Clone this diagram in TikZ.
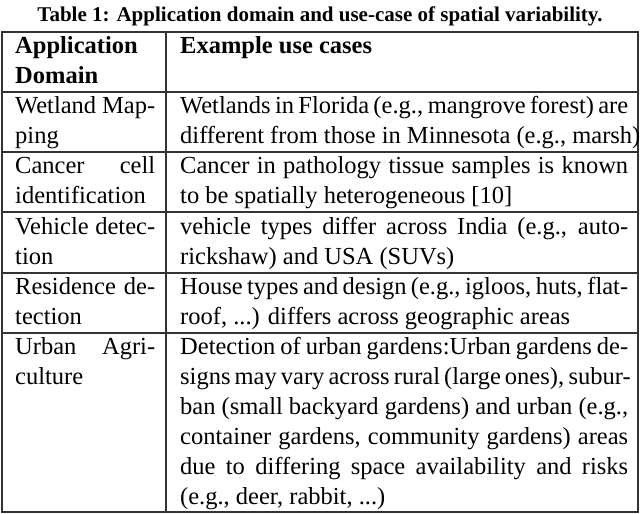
\documentclass[tikz,border=0pt]{standalone}
\usepackage{fontspec}
\setmainfont{Liberation Serif}
\begin{document}
\begin{tikzpicture}[x=1pt,y=-1pt,
  txt/.style={anchor=base west,inner sep=0pt,font=\fontsize{24.5}{28}\selectfont},
  hd/.style={txt,font=\fontsize{24.5}{28}\selectfont\bfseries},
  rule/.style={line width=1.2pt,black!80}]
\useasboundingbox (0,0) rectangle (640,514);
\newcommand\Ja[1]{\makebox[140pt][s]{#1}}
\newcommand\Jb[1]{\makebox[448pt][s]{#1}}
\node[anchor=base,inner sep=0pt,font=\fontsize{21}{24}\selectfont\bfseries] (title) at (320,21) {Table 1: Application domain and use-case of spatial variability.};
\draw[rule] (2,32) rectangle (638,512);
\draw[rule] (166,32) -- (166,512);
\foreach \y in {92,152,212,273,333} \draw[rule] (2,\y) -- (638,\y);
% header
\node[hd] (h1) at (15,53) {Application};
\node[hd] (h2) at (15,83) {Domain};
\node[hd] (h3) at (180,53) {Example use cases};
% row1
\node[txt] (a1) at (15,113) {\Ja{Wetland Map-}};
\node[txt] (a2) at (15,143) {ping};
\node[txt] (b1) at (180,113) {\Jb{Wetlands in Florida (e.g., mangrove forest) are}};
\node[txt] (b2) at (180,143) {different from those in Minnesota (e.g., marsh)};
% row2
\node[txt] (c1) at (15,173) {\Ja{Cancer cell}};
\node[txt] (c2) at (15,203) {identification};
\node[txt] (d1) at (180,173) {\Jb{Cancer in pathology tissue samples is known}};
\node[txt] (d2) at (180,203) {to be spatially heterogeneous [10]};
% row3
\node[txt] (e1) at (15,234) {\Ja{Vehicle detec-}};
\node[txt] (e2) at (15,264) {tion};
\node[txt] (f1) at (180,234) {\Jb{vehicle types differ across India (e.g., auto-}};
\node[txt] (f2) at (180,264) {rickshaw) and USA (SUVs)};
% row4
\node[txt] (g1) at (15,294) {\Ja{Residence de-}};
\node[txt] (g2) at (15,324) {tection};
\node[txt] (i1) at (180,294) {\Jb{House types and design (e.g., igloos, huts, flat-}};
\node[txt] (i2) at (180,324) {roof, ...) differs across geographic areas};
% row5
\node[txt] (k1) at (15,354) {\Ja{Urban Agri-}};
\node[txt] (k2) at (15,384) {culture};
\node[txt] (m1) at (180,354) {\Jb{Detection of urban gardens:Urban gardens de-}};
\node[txt] (m2) at (180,384) {\Jb{signs may vary across rural (large ones), subur-}};
\node[txt] (m3) at (180,414) {\Jb{ban (small backyard gardens) and urban (e.g.,}};
\node[txt] (m4) at (180,444) {\Jb{container gardens, community gardens) areas}};
\node[txt] (m5) at (180,474) {\Jb{due to differing space availability and risks}};
\node[txt] (m6) at (180,504) {(e.g., deer, rabbit, ...)};
\end{tikzpicture}
\end{document}
